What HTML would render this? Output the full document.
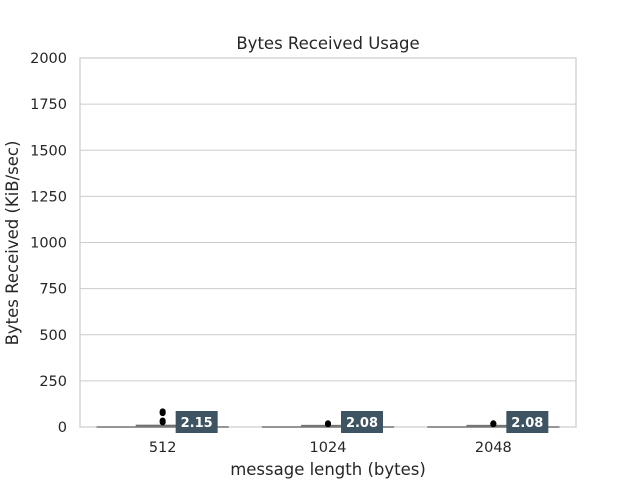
<!DOCTYPE html>
<html><head><meta charset="utf-8"><style>
body{margin:0;background:#fff;font-family:"DejaVu Sans","Liberation Sans",sans-serif}
</style></head><body>
<svg id="c" width="640" height="480" xmlns="http://www.w3.org/2000/svg" font-family="DejaVu Sans, Liberation Sans, sans-serif"></svg>
<script>
const categories=["512","1024","2048"];
const medians=[2.15,2.08,2.08];
const q1s=[1.5,1.5,1.5];
const q3s=[10,9,9];
const whiskLo=[0,0,0];
const whiskHi=[20,18,18];
const outliers=[[25,30,35,75,80,85],[15,18,20],[15,18,20]];
const yTicks=[0,250,500,750,1000,1250,1500,1750,2000];
const L=80,R=576,T=58,B=427,yMax=2000;
const svg=document.getElementById('c');const NS='http://www.w3.org/2000/svg';
const y=v=>B-(v/yMax)*(B-T);
const bw=(R-L)/categories.length;
const x=i=>L+bw*(i+0.5);
function mk(t,a,p){const e=document.createElementNS(NS,t);for(const k in a)e.setAttribute(k,a[k]);(p||svg).appendChild(e);return e;}
mk('rect',{x:0,y:0,width:640,height:480,fill:'#fff'});
yTicks.forEach(v=>{
const g=mk('line',{x1:L,x2:R,y1:y(v),y2:y(v),stroke:'#cccccc','stroke-width':1});


const t=mk('text',{x:L-13,y:y(v)+5,'text-anchor':'end','font-size':14.5,fill:'#262626'});t.textContent=v;


});
const fr=mk('rect',{x:L,y:T,width:R-L,height:B-T,fill:'none',stroke:'#cccccc','stroke-width':1.2});


categories.forEach((c,i)=>{
const cx=x(i),hw=bw*0.4;
const g=mk('g',{});


mk('line',{x1:cx-hw,x2:cx+hw,y1:y(whiskLo[i]),y2:y(whiskLo[i]),stroke:'#777','stroke-width':1.5},g);
mk('rect',{x:cx-hw*0.4,y:y(q3s[i]),width:hw*0.8,height:y(q1s[i])-y(q3s[i]),fill:'#4a6070',stroke:'#777'},g);
mk('line',{x1:cx-hw*0.4,x2:cx+hw*0.4,y1:y(medians[i]),y2:y(medians[i]),stroke:'#777','stroke-width':1.5},g);
mk('line',{x1:cx,x2:cx,y1:y(q3s[i]),y2:y(whiskHi[i]),stroke:'#777'},g);
outliers[i].forEach(o=>{const d=mk('circle',{cx:cx,cy:y(o),r:3,fill:'#000'},g);

});
const lb=mk('g',{});


mk('rect',{x:cx+13,y:411,width:42,height:22,fill:'#3e5462'},lb);
const t=mk('text',{x:cx+34,y:427,'text-anchor':'middle','font-size':13,'font-weight':'bold',fill:'#fff'},lb);t.textContent=medians[i].toFixed(2);
const xt=mk('text',{x:cx,y:452,'text-anchor':'middle','font-size':14.5,fill:'#262626'});xt.textContent=c;


});
const tt=mk('text',{x:328,y:49,'text-anchor':'middle','font-size':16.5,fill:'#262626'});tt.textContent='Bytes Received Usage';


const xl=mk('text',{x:328,y:475,'text-anchor':'middle','font-size':16.5,fill:'#262626'});xl.textContent='message length (bytes)';


const yl=mk('text',{x:18,y:243,'text-anchor':'middle','font-size':16.5,fill:'#262626',transform:'rotate(-90 18 243)'});yl.textContent='Bytes Received (KiB/sec)';


</script>
</body></html>
